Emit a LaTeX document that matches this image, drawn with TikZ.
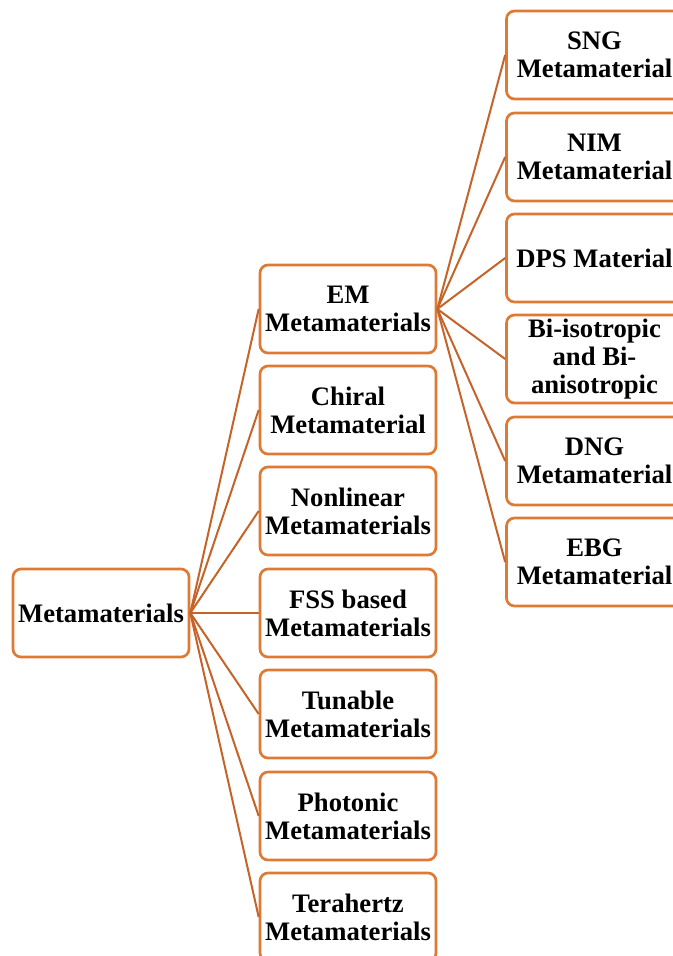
\documentclass[tikz,border=0pt]{standalone}
\usepackage{fontspec}
\setmainfont{Liberation Serif}
\usepackage{tikz}

\definecolor{boxorange}{RGB}{222,122,52}
\definecolor{lineorange}{RGB}{196,100,42}

\tikzset{
    metabox/.style={draw=boxorange, line width=2pt, rounded corners=6pt,
        fill=white, minimum width=132pt, minimum height=66pt, inner sep=1pt,
        align=center, font=\fontsize{20}{21}\selectfont\bfseries},
    branch/.style={draw=lineorange, line width=1.5pt}
}

\begin{document}
\begin{tikzpicture}[x=0.75pt, y=-0.75pt]
            \useasboundingbox (0, 0) rectangle (673, 956);

            \node [metabox] (meta) at (101, 613) {Metamaterials};

            \node [metabox] (em) at (348, 309) {EM\\Metamaterials};
            \node [metabox] (chiral) at (348, 410) {Chiral\\Metamaterial};
            \node [metabox] (nonlinear) at (348, 511) {Nonlinear\\Metamaterials};
            \node [metabox] (fss) at (348, 613) {FSS based\\Metamaterials};
            \node [metabox] (tunable) at (348, 714) {Tunable\\Metamaterials};
            \node [metabox] (photonic) at (348, 816) {Photonic\\Metamaterials};
            \node [metabox] (terahertz) at (348, 917) {Terahertz\\Metamaterials};

            \node [metabox] (sng) at (594.5, 55) {SNG\\Metamaterial};
            \node [metabox] (nim) at (594.5, 157) {NIM\\Metamaterial};
            \node [metabox] (dps) at (594.5, 258) {DPS Material};
            \node [metabox] (biiso) at (594.5, 359) {Bi-isotropic\\and Bi-\\anisotropic};
            \node [metabox] (dng) at (594.5, 461) {DNG\\Metamaterial};
            \node [metabox] (ebg) at (594.5, 562) {EBG\\Metamaterial};

            \draw [branch] (meta.east) -- (em.west);
            \draw [branch] (meta.east) -- (chiral.west);
            \draw [branch] (meta.east) -- (nonlinear.west);
            \draw [branch] (meta.east) -- (fss.west);
            \draw [branch] (meta.east) -- (tunable.west);
            \draw [branch] (meta.east) -- (photonic.west);
            \draw [branch] (meta.east) -- (terahertz.west);

            \draw [branch] (em.east) -- (sng.west);
            \draw [branch] (em.east) -- (nim.west);
            \draw [branch] (em.east) -- (dps.west);
            \draw [branch] (em.east) -- (biiso.west);
            \draw [branch] (em.east) -- (dng.west);
            \draw [branch] (em.east) -- (ebg.west);
        \end{tikzpicture}
\end{document}
